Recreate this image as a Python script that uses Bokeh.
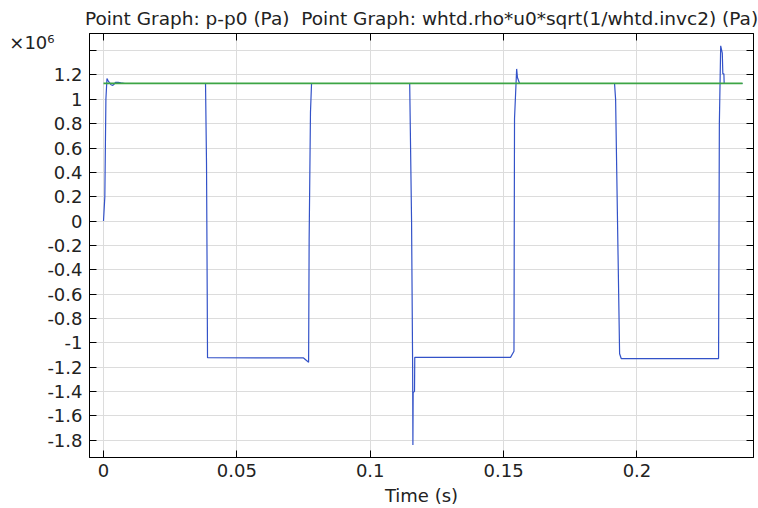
from bokeh.plotting import figure
from bokeh.models import (LinearAxis, FixedTicker, CustomJSTickFormatter, Range1d)
from bokeh.embed import file_html
from bokeh.resources import INLINE

# ---------------- data ----------------
# Time (s)
t_blue = [0.0, 0.0005, 0.0009, 0.0013, 0.0018, 0.0023, 0.0028, 0.0035, 0.0040,
          0.0045, 0.0055, 0.0065, 0.0080,
          0.03825, 0.03862, 0.03888, 0.0390, 0.0750, 0.0769, 0.0771, 0.0776, 0.0780,
          0.1148, 0.1155, 0.1159, 0.1160, 0.1161, 0.1166, 0.1167, 0.1526, 0.1539,
          0.1541, 0.1549, 0.1552, 0.1560,
          0.1916, 0.1920, 0.1935, 0.1941, 0.2306, 0.2309, 0.2314, 0.2320, 0.2322,
          0.2326, 0.2327, 0.2396]
# p - p0 (x10^6 Pa)
p_blue = [0.0, 0.2, 1.0, 1.17, 1.15, 1.135, 1.12, 1.115, 1.125,
          1.14, 1.14, 1.135, 1.13,
          1.13, 0.475, -0.566, -1.123, -1.125, -1.16, -0.156, 0.893, 1.13,
          1.13, 0.0, -1.2, -1.84, -1.41, -1.40, -1.12, -1.12, -1.07,
          0.84, 1.25, 1.18, 1.13,
          1.13, 1.0, -1.09, -1.13, -1.13, 0.8, 1.44, 1.38, 1.21,
          1.21, 1.13, 1.13]
# rho*u0*c (x10^6 Pa)
t_green = [0.0, 0.2396]
p_green = [1.131, 1.131]

x_ticks = [0, 0.05, 0.1, 0.15, 0.2]
y_ticks = [-1.8, -1.6, -1.4, -1.2, -1.0, -0.8, -0.6, -0.4, -0.2, 0.0,
           0.2, 0.4, 0.6, 0.8, 1.0, 1.2, 1.4]
y_unlabelled = 1.4
multiplier_text = "×10⁶"
multiplier_pos = [1.47]

title_text = ("Point Graph: p-p0 (Pa)\u00a0 Point Graph: "
              "whtd.rho*u0*sqrt(1/whtd.invc2) (Pa)")

FONT = "DejaVu Sans"
FS = "18px"

p = figure(width=758, height=508, output_backend="svg", toolbar_location=None,
           x_range=Range1d(-0.00525, 0.2437), y_range=Range1d(-1.943, 1.541),
           min_border_left=89, min_border_right=5, min_border_top=33,
           min_border_bottom=50)
p.background_fill_color = "white"
p.border_fill_color = "white"
p.outline_line_color = "black"

p.title.text = title_text
p.title.align = "center"
p.title.text_font = FONT
p.title.text_font_size = "18.5px"
p.title.text_font_style = "normal"
p.title.text_color = "#222222"
p.title.standoff = 9
p.title.offset = -3

xt = FixedTicker(ticks=x_ticks)
yt = FixedTicker(ticks=y_ticks)

xfmt = CustomJSTickFormatter(code="return String(Math.round(tick*100)/100);")
yfmt = CustomJSTickFormatter(args=dict(skip=y_unlabelled), code="""
if (Math.abs(tick - skip) < 1e-6) { return ''; }
return String(Math.round(tick*10)/10);
""")

for ax, tk, fm in ((p.xaxis[0], xt, xfmt), (p.yaxis[0], yt, yfmt)):
    ax.ticker = tk
    ax.formatter = fm
    ax.major_tick_in = 7
    ax.major_tick_out = 0
    ax.minor_tick_line_color = None
    ax.axis_line_color = "black"
    ax.major_tick_line_color = "black"
    ax.major_label_text_font = FONT
    ax.major_label_text_font_size = FS
    ax.major_label_text_color = "#222222"

p.yaxis[0].major_label_standoff = 7
p.xaxis[0].major_label_standoff = 6
p.xaxis[0].axis_label = "Time (s)"
p.xaxis[0].axis_label_text_font = FONT
p.xaxis[0].axis_label_text_font_size = FS
p.xaxis[0].axis_label_text_font_style = "normal"
p.xaxis[0].axis_label_text_color = "#222222"
p.xaxis[0].axis_label_standoff = 5

empty = CustomJSTickFormatter(code="return '';")
top_ax = LinearAxis(ticker=xt, formatter=empty, major_tick_in=7, major_tick_out=0,
                    minor_tick_line_color=None, major_label_text_font_size="1px",
                    major_label_standoff=0, axis_line_color="black")
right_ax = LinearAxis(ticker=yt, formatter=empty, major_tick_in=7, major_tick_out=0,
                      minor_tick_line_color=None, major_label_text_font_size="1px",
                      major_label_standoff=0, axis_line_color="black")
p.add_layout(top_ax, "above")
p.add_layout(right_ax, "right")

# the x10^6 multiplier, as a label-only axis beside the y axis
mult_ax = LinearAxis(ticker=FixedTicker(ticks=multiplier_pos),
                     formatter=CustomJSTickFormatter(args=dict(t=multiplier_text),
                                                     code="return t;"),
                     axis_line_color=None, major_tick_line_color=None,
                     minor_tick_line_color=None, major_tick_in=0, major_tick_out=0,
                     major_label_standoff=-10, major_label_text_font=FONT,
                     major_label_text_font_size=FS, major_label_text_color="#222222")
p.add_layout(mult_ax, "left")

p.xgrid.ticker = xt
p.ygrid.ticker = yt
p.xgrid.grid_line_color = "#dcdcdc"
p.ygrid.grid_line_color = "#dcdcdc"

p.line(t_blue, p_blue, line_color="#3352c8", line_width=1.2)
p.line(t_green, p_green, line_color="#3da545", line_width=1.6)

open("out.html", "w").write(file_html(p, INLINE))
